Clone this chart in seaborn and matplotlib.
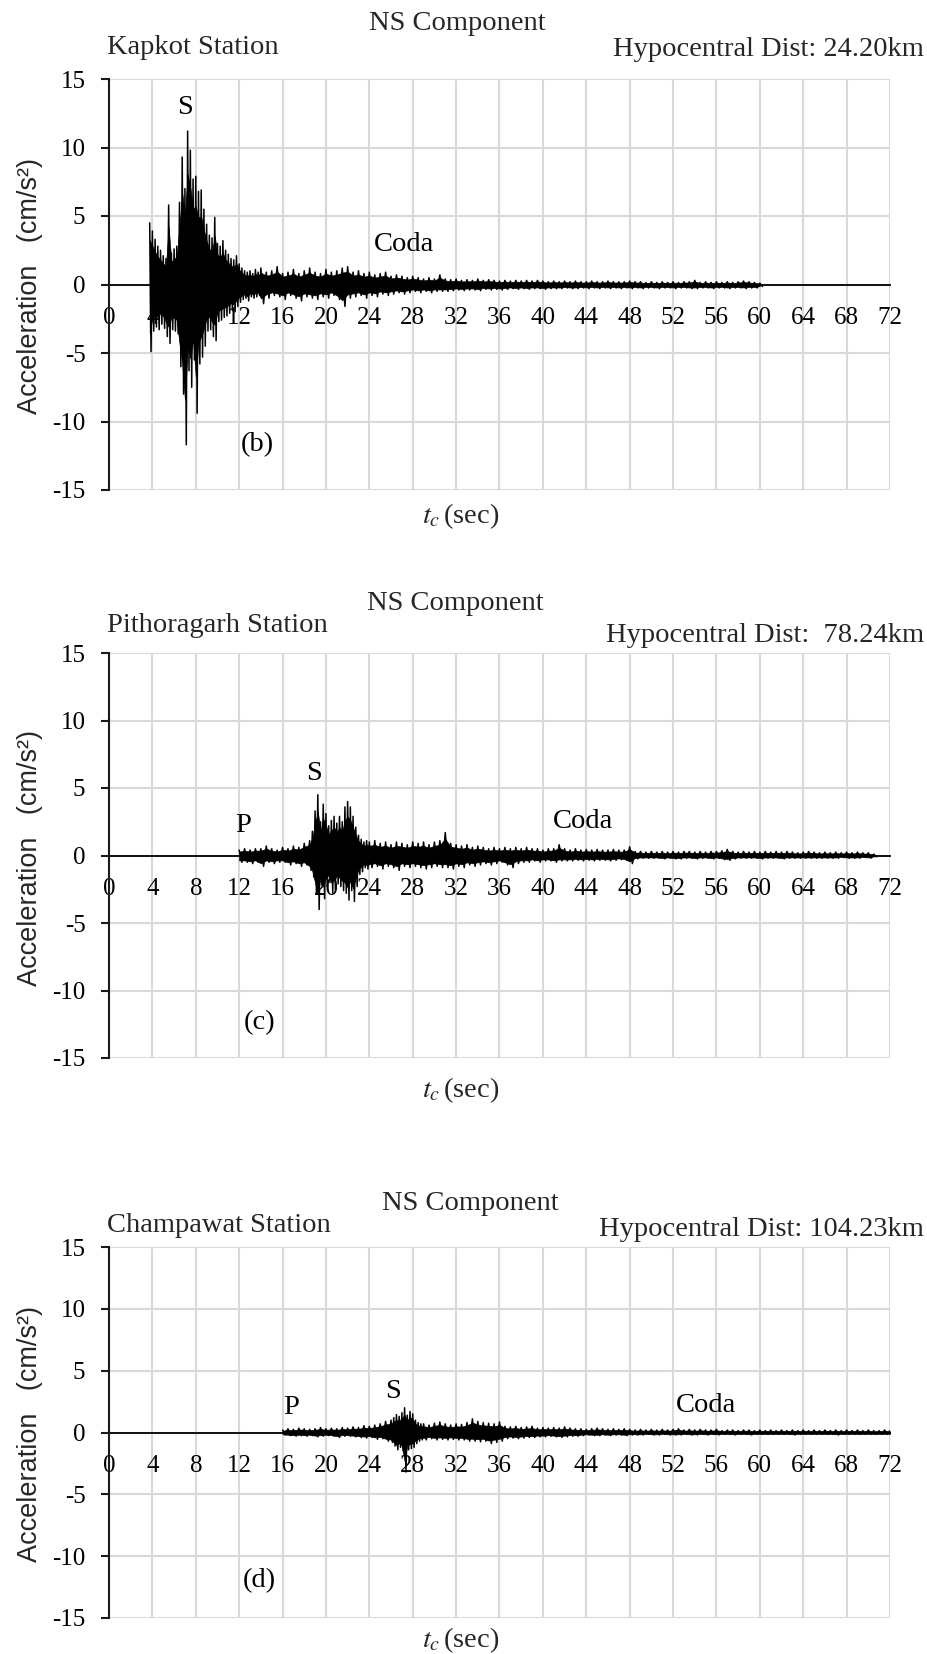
import numpy as np
import pandas as pd
import matplotlib
matplotlib.use("Agg")
import matplotlib.pyplot as plt
import seaborn as sns

# ---------------------------------------------------------------- data ----
x_ticks = list(range(0, 73, 4))
y_ticks = [-15, -10, -5, 0, 5, 10, 15]

titles = ["NS Component", "NS Component", "NS Component"]
stations = ["Kapkot Station", "Pithoragarh Station", "Champawat Station"]
distances = ["Hypocentral Dist: 24.20km", "Hypocentral Dist:  78.24km",
             "Hypocentral Dist: 104.23km"]
panel_tags = ["(b)", "(c)", "(d)"]

# Peak acceleration (cm/s^2) per window: upper = max, lower = min.
# Kapkot: S burst every 0.25 s from 3.75 s, coda every 0.5 s from 14 s
kap_burst_t0, kap_burst_dt = 3.75, 0.25
kap_burst_up = [4.5, 3.9, 3.3, 2.8, 2.5, 2.1, 1.9, 5.8, 2.3, 2.6,
                2.8, 6.0, 9.3, 7.0, 11.2, 9.8, 7.7, 7.9, 6.8, 6.9,
                5.5, 4.4, 3.6, 3.4, 4.9, 3.0, 2.8, 3.2, 2.5, 2.2,
                1.9, 1.8, 2.1, 1.5, 1.2, 1.0, 0.9, 1.0, 0.8, 1.1, 0.9]
kap_burst_lo = [-4.9, -3.4, -3.1, -3.3, -2.9, -3.2, -3.8, -4.3, -3.3, -3.4,
                -3.6, -6.0, -8.0, -11.7, -6.3, -7.5, -5.5, -9.4, -5.8, -5.3,
                -4.5, -3.4, -3.3, -3.8, -4.1, -2.7, -2.6, -2.4, -2.3, -2.1,
                -1.9, -2.0, -1.6, -1.3, -1.1, -1.0, -1.2, -0.9, -1.0, -0.9, -0.8]
kap_coda_t0, kap_coda_dt = 14.0, 0.5
kap_coda_up = [1.2, 0.9, 1.0, 1.3, 0.8, 0.9, 1.1, 0.8, 1.0, 1.2,
               0.9, 0.8, 1.1, 0.9, 1.0, 1.2, 1.3, 0.9, 1.0, 0.8,
               0.9, 0.7, 0.8, 0.9, 0.6, 0.7, 0.6, 0.5, 0.6, 0.5,
               0.4, 0.5, 0.4, 0.7, 0.4, 0.35, 0.4, 0.3, 0.35, 0.3,
               0.4, 0.3, 0.35, 0.3, 0.25, 0.3, 0.25, 0.3, 0.25, 0.3,
               0.25, 0.3, 0.25, 0.2, 0.25, 0.2, 0.25, 0.2, 0.25, 0.2,
               0.2, 0.25, 0.2, 0.2, 0.25, 0.2, 0.2, 0.2, 0.25, 0.2,
               0.2, 0.15, 0.2, 0.15, 0.2, 0.15, 0.2, 0.15, 0.2, 0.2,
               0.3, 0.15, 0.2, 0.15, 0.2, 0.15, 0.2, 0.15, 0.2, 0.25,
               0.2, 0.15, 0.1]
kap_coda_lo = [-1.4, -1.0, -0.8, -0.9, -1.1, -0.8, -1.0, -1.2, -0.9, -1.0,
               -1.1, -0.9, -1.0, -0.8, -1.1, -1.6, -1.0, -0.9, -0.8, -1.0,
               -0.8, -0.9, -0.7, -0.8, -0.7, -0.6, -0.7, -0.6, -0.5, -0.6,
               -0.5, -0.6, -0.5, -0.5, -0.5, -0.45, -0.4, -0.45, -0.4, -0.4,
               -0.45, -0.35, -0.4, -0.35, -0.4, -0.35, -0.3, -0.35, -0.3, -0.35,
               -0.3, -0.3, -0.35, -0.3, -0.3, -0.3, -0.25, -0.3, -0.3, -0.25,
               -0.3, -0.25, -0.3, -0.25, -0.3, -0.25, -0.3, -0.25, -0.3, -0.25,
               -0.3, -0.25, -0.25, -0.3, -0.25, -0.25, -0.3, -0.25, -0.25, -0.3,
               -0.3, -0.25, -0.25, -0.3, -0.25, -0.25, -0.3, -0.25, -0.25, -0.3,
               -0.25, -0.25, -0.15]

# Pithoragarh: P window (0.5 s), S burst (0.25 s), coda (0.5 s)
pit_p_t0, pit_p_dt = 12.0, 0.5
pit_p_up = [0.4, 0.5, 0.4, 0.5, 0.5, 0.7, 0.5, 0.4, 0.6, 0.5, 0.7, 0.6, 0.9]
pit_p_lo = [-0.5, -0.5, -0.6, -0.5, -0.8, -0.5, -0.6, -0.5, -0.5, -0.7, -0.6, -0.8, -0.7]
pit_burst_t0, pit_burst_dt = 18.5, 0.25
pit_burst_up = [1.1, 1.8, 3.3, 4.5, 2.5, 3.8, 3.1, 2.2, 2.6, 2.9, 2.4,
                2.9, 2.5, 3.6, 4.0, 3.6, 2.9, 2.1, 1.5, 1.2, 1.0, 1.1]
pit_burst_lo = [-1.1, -1.6, -2.8, -4.0, -2.2, -3.2, -2.3, -2.0, -2.8, -2.5, -2.1,
                -2.3, -2.6, -2.8, -3.3, -2.6, -3.4, -2.3, -1.4, -1.2, -0.9, -1.0]
pit_coda_t0, pit_coda_dt = 24.0, 0.5
pit_coda_up = [1.0, 1.1, 0.9, 1.0, 0.8, 1.0, 0.9, 0.8, 1.0, 0.9,
               1.0, 0.8, 1.0, 1.1, 1.7, 0.9, 0.8, 0.7, 0.8, 0.6,
               0.7, 0.6, 0.5, 0.6, 0.5, 0.6, 0.5, 0.6, 0.5, 0.6,
               0.5, 0.5, 0.4, 0.5, 0.5, 0.8, 0.5, 0.4, 0.5, 0.4,
               0.45, 0.4, 0.45, 0.4, 0.4, 0.45, 0.4, 0.4, 0.65, 0.3,
               0.3, 0.25, 0.3, 0.25, 0.3, 0.25, 0.3, 0.25, 0.3, 0.3,
               0.25, 0.3, 0.25, 0.3, 0.3, 0.35, 0.45, 0.3, 0.25, 0.3,
               0.25, 0.3, 0.25, 0.3, 0.25, 0.3, 0.25, 0.3, 0.25, 0.2,
               0.25, 0.3, 0.25, 0.2, 0.25, 0.2, 0.25, 0.2, 0.25, 0.2,
               0.25, 0.2, 0.2, 0.1]
pit_coda_lo = [-0.9, -0.8, -1.0, -0.8, -0.9, -1.1, -0.8, -0.9, -0.8, -0.9,
               -1.0, -0.9, -0.8, -0.9, -0.9, -1.0, -0.8, -0.9, -0.7, -0.8,
               -0.7, -0.6, -0.7, -0.6, -0.5, -0.7, -0.9, -0.6, -0.5, -0.5,
               -0.4, -0.5, -0.4, -0.4, -0.5, -0.4, -0.4, -0.4, -0.35, -0.4,
               -0.35, -0.4, -0.35, -0.35, -0.4, -0.35, -0.3, -0.35, -0.6, -0.25,
               -0.2, -0.2, -0.2, -0.2, -0.25, -0.2, -0.25, -0.25, -0.2, -0.2,
               -0.25, -0.2, -0.2, -0.25, -0.2, -0.3, -0.35, -0.25, -0.2, -0.2,
               -0.2, -0.2, -0.25, -0.2, -0.2, -0.2, -0.25, -0.2, -0.2, -0.2,
               -0.2, -0.2, -0.2, -0.2, -0.2, -0.2, -0.2, -0.15, -0.2, -0.2,
               -0.2, -0.15, -0.2, -0.1]

# Champawat: P window (0.5 s), S burst (0.25 s), coda (0.5 s)
cha_p_t0, cha_p_dt = 16.0, 0.5
cha_p_up = [0.2, 0.3, 0.25, 0.35, 0.3, 0.25, 0.3, 0.4, 0.3, 0.35,
            0.3, 0.4, 0.35, 0.45, 0.4, 0.55, 0.5, 0.6, 0.7, 0.9]
cha_p_lo = [-0.2, -0.25, -0.3, -0.25, -0.3, -0.25, -0.35, -0.3, -0.25, -0.3,
            -0.4, -0.3, -0.3, -0.35, -0.4, -0.45, -0.4, -0.55, -0.5, -0.7]
cha_burst_t0, cha_burst_dt = 26.0, 0.25
cha_burst_up = [1.0, 1.2, 1.45, 1.3, 1.6, 2.0, 1.4, 1.7, 1.5, 1.0, 0.8, 0.7]
cha_burst_lo = [-0.8, -1.1, -1.4, -1.2, -1.5, -3.2, -1.4, -1.3, -1.2, -0.9, -0.7, -0.6]
cha_coda_t0, cha_coda_dt = 29.0, 0.5
cha_coda_up = [0.7, 0.6, 0.75, 0.85, 0.7, 0.6, 0.7, 0.65, 0.8, 1.1,
               0.9, 0.8, 0.75, 0.7, 0.85, 0.5, 0.45, 0.5, 0.4, 0.45,
               0.5, 0.35, 0.4, 0.35, 0.4, 0.35, 0.45, 0.35, 0.3, 0.3,
               0.25, 0.3, 0.35, 0.3, 0.25, 0.3, 0.25, 0.3, 0.25, 0.2,
               0.25, 0.2, 0.25, 0.2, 0.25, 0.2, 0.25, 0.3, 0.2, 0.25,
               0.2, 0.25, 0.2, 0.2, 0.25, 0.15, 0.2, 0.2, 0.15, 0.2,
               0.2, 0.15, 0.2, 0.15, 0.2, 0.15, 0.2, 0.15, 0.2, 0.15,
               0.2, 0.15, 0.2, 0.15, 0.2, 0.15, 0.2, 0.15, 0.2, 0.15,
               0.2, 0.15, 0.2, 0.15, 0.15, 0.2, 0.15]
cha_coda_lo = [-0.6, -0.5, -0.6, -0.55, -0.6, -0.55, -0.6, -0.6, -0.7, -0.7,
               -0.75, -0.7, -0.9, -0.8, -0.7, -0.5, -0.45, -0.5, -0.45, -0.4,
               -0.4, -0.35, -0.35, -0.3, -0.35, -0.4, -0.35, -0.3, -0.3, -0.25,
               -0.2, -0.25, -0.25, -0.2, -0.25, -0.2, -0.2, -0.25, -0.2, -0.2,
               -0.2, -0.15, -0.2, -0.2, -0.15, -0.2, -0.2, -0.2, -0.15, -0.2,
               -0.2, -0.15, -0.2, -0.15, -0.2, -0.15, -0.15, -0.2, -0.15, -0.15,
               -0.2, -0.15, -0.15, -0.15, -0.15, -0.15, -0.15, -0.15, -0.2, -0.15,
               -0.15, -0.15, -0.15, -0.15, -0.15, -0.15, -0.2, -0.15, -0.15, -0.15,
               -0.15, -0.15, -0.15, -0.15, -0.15, -0.15, -0.15]

# phase labels (text, time, acceleration)
kap_phases = [("S", 7.0, 12.9), ("Coda", 27.2, 2.9)]
pit_phases = [("P", 12.4, 2.25), ("S", 18.9, 6.1), ("Coda", 43.7, 2.55)]
cha_phases = [("P", 16.8, 2.0), ("S", 26.2, 3.3), ("Coda", 55.0, 2.15)]
tag_positions = [(13.7, -11.7), (13.9, -12.4), (13.9, -12.0)]


def record(*segments):
    """Join sampled windows (t0, dt, upper, lower) into one table."""
    parts = []
    for t0, dt, up, lo in segments:
        t = t0 + dt * np.arange(len(up))
        parts.append(pd.DataFrame({"t": t, "dt": dt, "up": up, "lo": lo}))
    return pd.concat(parts, ignore_index=True)


def trace(df):
    """Oscillating trace that alternates between each window's max and min."""
    t = np.column_stack([df["t"], df["t"] + df["dt"] / 2]).ravel()
    v = np.column_stack([df["up"], df["lo"]]).ravel()
    return pd.DataFrame({"t": t, "acc": v})


records = [
    record((kap_burst_t0, kap_burst_dt, kap_burst_up, kap_burst_lo),
           (kap_coda_t0, kap_coda_dt, kap_coda_up, kap_coda_lo)),
    record((pit_p_t0, pit_p_dt, pit_p_up, pit_p_lo),
           (pit_burst_t0, pit_burst_dt, pit_burst_up, pit_burst_lo),
           (pit_coda_t0, pit_coda_dt, pit_coda_up, pit_coda_lo)),
    record((cha_p_t0, cha_p_dt, cha_p_up, cha_p_lo),
           (cha_burst_t0, cha_burst_dt, cha_burst_up, cha_burst_lo),
           (cha_coda_t0, cha_coda_dt, cha_coda_up, cha_coda_lo)),
]
phases = [kap_phases, pit_phases, cha_phases]

# -------------------------------------------------------------- styling ----
sns.set_theme(style="white")
plt.rcParams["font.family"] = ["Liberation Serif", "DejaVu Serif"]
plt.rcParams["mathtext.fontset"] = "stix"

W, H = 928, 1654
fig = plt.figure(figsize=(W / 100, H / 100), dpi=100)

# axes boxes in pixels: left, top, right, bottom
boxes = [(109, 79, 890, 490), (109, 653, 890, 1058), (109, 1247, 890, 1618)]
# header rows in pixels: title y, station y, distance y, title x
headers = [(24, 47, 50, 457), (604, 626, 636, 455), (1204, 1226, 1229, 470)]
xlabel_y = [516, 1090, 1640]

GRID = "#d9d9d9"
for i, (l, t, r, b) in enumerate(boxes):
    ax = fig.add_axes([l / W, 1 - b / H, (r - l) / W, (b - t) / H])
    df = records[i]

    # dense core of the record, then the oscillating max/min trace over it
    ax.fill_between(df["t"], 0.72 * df["lo"], 0.72 * df["up"], color="black",
                    lw=0.5, zorder=1.5)
    sns.lineplot(data=trace(df), x="t", y="acc", ax=ax, color="black", lw=1.1,
                 estimator=None, sort=False, zorder=1.6)

    ax.set_xlim(0, 72)
    ax.set_ylim(-15, 15)
    ax.set_xticks(x_ticks)
    ax.set_yticks(y_ticks)
    ax.set_xticklabels([str(v) for v in x_ticks])
    ax.set_yticklabels([str(v) for v in y_ticks])
    ax.grid(True, color=GRID, lw=1.5)
    ax.set_axisbelow(True)
    ax.set_xlabel("")
    ax.set_ylabel("")

    for side in ("top", "right"):
        ax.spines[side].set_visible(False)
    ax.spines["left"].set_color("#1a1a1a")
    ax.spines["left"].set_linewidth(1.5)
    ax.spines["bottom"].set_position(("data", 0))
    ax.spines["bottom"].set_color("black")
    ax.spines["bottom"].set_linewidth(1.3)
    ax.spines["bottom"].set_zorder(1.4)

    ax.tick_params(axis="y", left=True, direction="out", length=6, width=1.5,
                   color="#1a1a1a", pad=11, labelsize=18, labelcolor="black")
    ax.tick_params(axis="x", bottom=True, length=0, pad=16, labelsize=18,
                   labelcolor="black")

    for label, tx, ty in phases[i]:
        ax.text(tx, ty, label, ha="center", va="center", fontsize=20.5,
                color="black", zorder=3)
    tx, ty = tag_positions[i]
    ax.text(tx, ty, panel_tags[i], ha="center", va="center", fontsize=20.5,
            color="black", zorder=3)

    ty_title, ty_station, ty_dist, tx_title = headers[i]
    fig.text(tx_title / W, 1 - ty_title / H, titles[i], ha="center", va="center",
             fontsize=20.5)
    fig.text(107 / W, 1 - ty_station / H, stations[i], ha="left", va="center",
             fontsize=20.5)
    fig.text(924 / W, 1 - ty_dist / H, distances[i], ha="right", va="center",
             fontsize=20.5)

    fig.text(461 / W, 1 - xlabel_y[i] / H, r"$t_c\,$(sec)", ha="center",
             va="center", fontsize=20.5)
    fig.text(30 / W, 1 - ((t + b) / 2 + 2) / H, "Acceleration   (cm/s\u00b2)",
             rotation=90, ha="center", va="center", fontsize=19.5,
             family=["Liberation Sans", "DejaVu Sans"])

fig.savefig("out.png", dpi=100)
